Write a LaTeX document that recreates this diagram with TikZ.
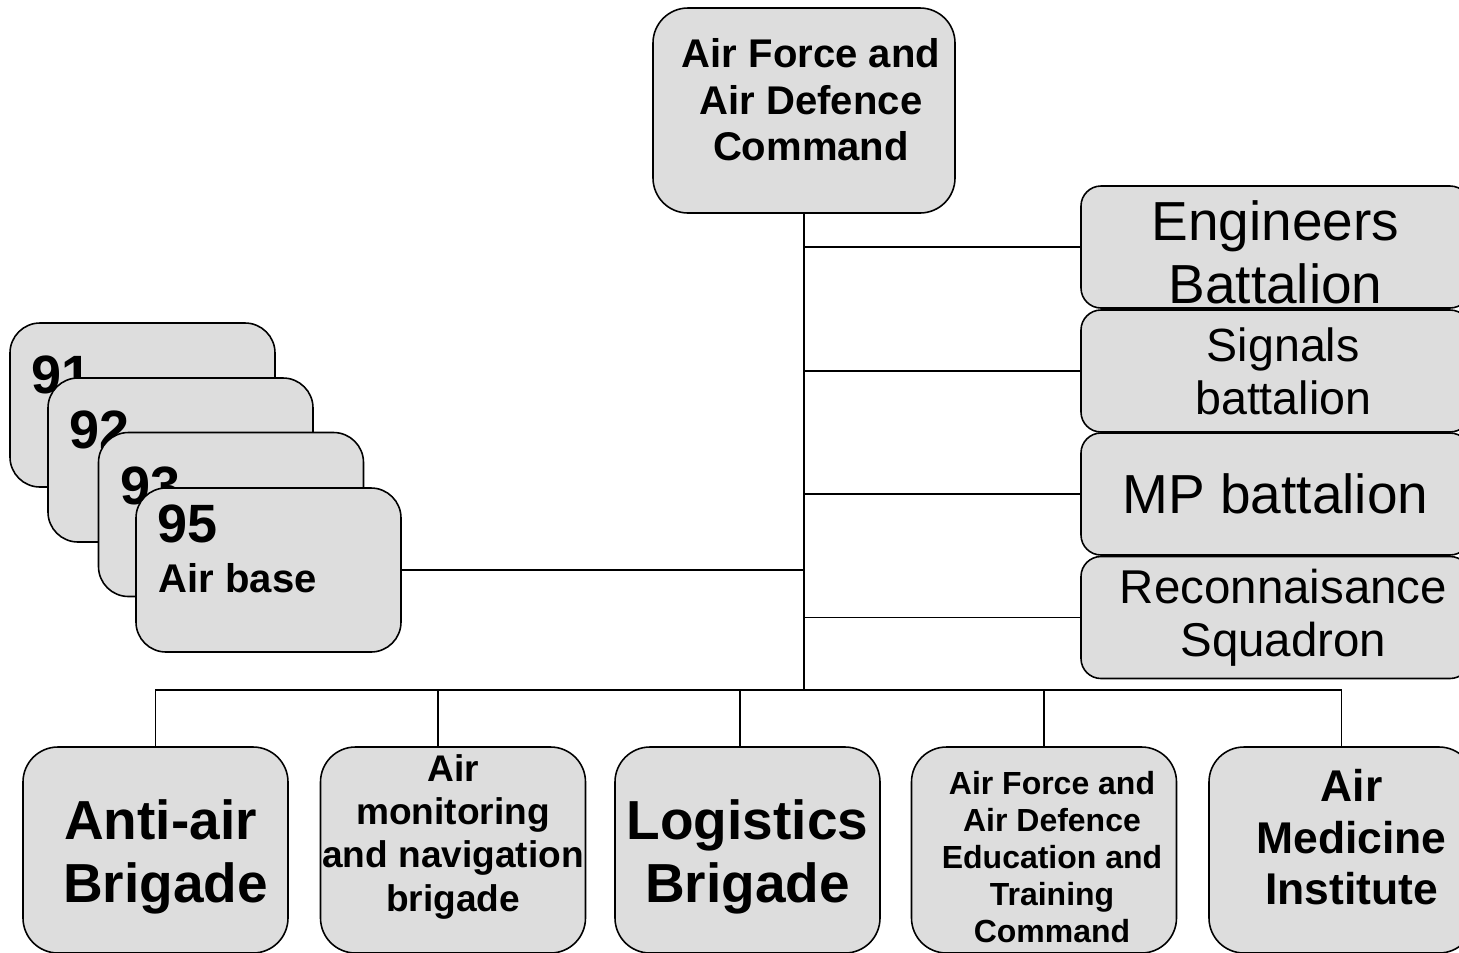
\documentclass[tikz,border=0pt]{standalone}
\usepackage{fontspec}
\setmainfont{Liberation Sans}
\definecolor{boxgray}{RGB}{221,221,221}
\begin{document}
\begin{tikzpicture}[
    unit/.style={draw, fill=boxgray, line width=0.9pt, inner sep=0pt, align=center},
    topbox/.style={unit, rounded corners=0.7cm, minimum width=6.04cm, minimum height=4.1cm,
        font=\fontsize{22.8}{26.2}\selectfont\bfseries},
    sidebox/.style={unit, rounded corners=0.4cm, minimum width=7.78cm, minimum height=2.44cm},
    basebox/.style={unit, rounded corners=0.6cm, minimum width=5.3cm, minimum height=3.28cm},
    brigbox/.style={unit, rounded corners=0.7cm, minimum width=5.3cm, minimum height=4.12cm},
    basenum/.style={anchor=base west, inner sep=0pt, font=\fontsize{30.7}{35}\selectfont\bfseries},
    link/.style={line width=0.7pt}
]
\useasboundingbox (0,0) rectangle (29.18,-19.04);

% command
\node[topbox, text depth=0.44cm] at (16.08,-2.21) (cmd)
    {\hspace{0.28cm}Air Force and\\\hspace{0.28cm}Air Defence\\\hspace{0.28cm}Command};
\coordinate (hub) at (16.08,-13.8);

% right column
\node[sidebox, font=\fontsize{31.3}{35.9}\selectfont, text height=2.27cm] at (25.51,-4.94) (eng) {Engineers\\Battalion};
\node[sidebox, font=\fontsize{26.5}{30.2}\selectfont] at (25.51,-7.42) (sig) {\,\,Signals\\\,\,battalion};
\node[sidebox, font=\fontsize{31.3}{35.9}\selectfont] at (25.51,-9.88) (mpb) {MP battalion};
\node[sidebox, font=\fontsize{27}{30.2}\selectfont] at (25.51,-12.35) (rec) {\,\,Reconnaisance\\\,\,Squadron};

% air bases, stacked
\node[basebox] at (2.85,-8.10) (ab91) {};
\node[basenum] at ([shift={(0.44,-1.42)}]ab91.north west) (t91) {91};
\node[basebox] at (3.61,-9.20) (ab92) {};
\node[basenum] at ([shift={(0.44,-1.42)}]ab92.north west) (t92) {92};
\node[basebox] at (4.62,-10.29) (ab93) {};
\node[basenum] at ([shift={(0.44,-1.45)}]ab93.north west) (t93) {93};
\node[basebox] at (5.37,-11.40) (ab95) {};
\node[basenum] at ([shift={(0.44,-1.10)}]ab95.north west) (t95) {95};
\node[basenum, font=\fontsize{22.8}{26}\selectfont\bfseries] at ([shift={(0.46,-2.10)}]ab95.north west) (tab) {Air base};

% brigades
\node[brigbox, font=\fontsize{31.3}{35.9}\selectfont\bfseries, text height=2.33cm] at (3.11,-17) (aab)
    {\hspace{0.2cm}Anti-air\\\hspace{0.4cm}Brigade};
\node[brigbox, font=\fontsize{21.1}{24.5}\selectfont\bfseries, text depth=0.68cm] at (9.06,-17) (amb)
    {Air\\monitoring\\and navigation\\brigade};
\node[brigbox, font=\fontsize{31.3}{35.9}\selectfont\bfseries, text height=2.33cm] at (14.95,-17) (lbr)
    {Logistics\\Brigade};
\node[brigbox, font=\fontsize{18.2}{21.1}\selectfont\bfseries, text height=3.71cm] at (20.88,-17) (etc)
    {\hspace{0.32cm}Air Force and\\\hspace{0.32cm}Air Defence\\\hspace{0.32cm}Education and\\\hspace{0.32cm}Training\\\hspace{0.32cm}Command};
\node[brigbox, font=\fontsize{25.3}{29.3}\selectfont\bfseries, text depth=0.52cm] at (26.83,-17) (med)
    {\hspace{0.4cm}Air\\\hspace{0.4cm}Medicine\\\hspace{0.4cm}Institute};

% connectors
\draw[link] (cmd.south) -- (hub);
\foreach \n in {eng,sig,mpb,rec}
    \draw[link] (\n.west) -- (\n.west -| hub);
\draw[link] (ab95.east) -- (ab95.east -| hub);
\draw[link] (aab.north) |- (hub) -| (med.north);
\draw[link] ([xshift=-0.3cm]amb.north) -- ([xshift=-0.3cm]amb.north |- hub);
\draw[link] ([xshift=-0.15cm]lbr.north) -- ([xshift=-0.15cm]lbr.north |- hub);
\draw[link] (etc.north) -- (etc.north |- hub);
\end{tikzpicture}
\end{document}
